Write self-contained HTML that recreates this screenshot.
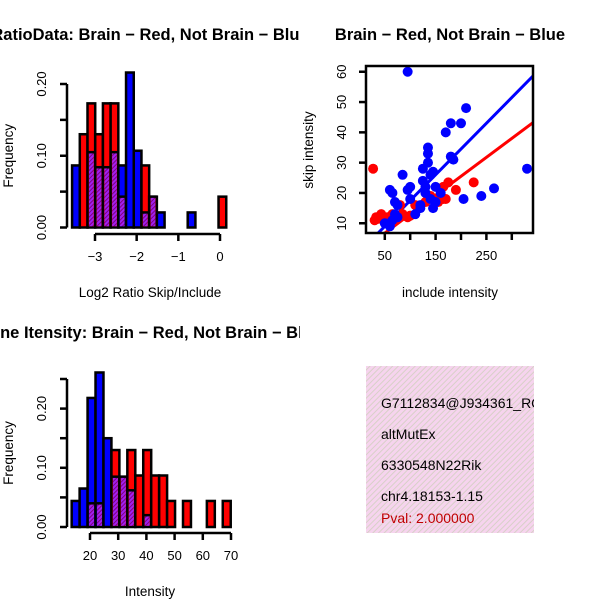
<!DOCTYPE html>
<html><head><meta charset="utf-8"><style>
html,body{margin:0;padding:0;background:#fff;}
svg{display:block;font-family:"Liberation Sans",Arial,sans-serif;}
</style></head><body>
<svg id="s" width="600" height="600" viewBox="0 0 600 600" xmlns="http://www.w3.org/2000/svg">
<defs>
<clipPath id="cTL"><rect x="0" y="0" width="300" height="300"/></clipPath>
<clipPath id="cBL"><rect x="0" y="300" width="300" height="300"/></clipPath>
<clipPath id="cTR"><rect x="300" y="0" width="300" height="300"/></clipPath>
<clipPath id="cScat"><rect x="366" y="66" width="167" height="167"/></clipPath>
<clipPath id="cBox"><rect x="366" y="366" width="168" height="167"/></clipPath>
<pattern id="pink" width="4" height="4" patternUnits="userSpaceOnUse" patternTransform="rotate(45)">
<rect width="4" height="4" fill="#f6d4ee"/><rect width="1" height="4" fill="#d8d0c8"/></pattern>
<pattern id="purp" width="3" height="3" patternUnits="userSpaceOnUse" patternTransform="rotate(45)">
<rect width="3" height="3" fill="#a020f0"/><rect width="1" height="3" fill="#800080"/></pattern>
</defs>
<g id="tl" clip-path="url(#cTL)"></g>
<g id="bl" clip-path="url(#cBL)"></g>
<g id="tr" clip-path="url(#cTR)"></g>
<g id="br">
<rect x="366" y="366" width="168" height="167" fill="url(#pink)"/>
<g clip-path="url(#cBox)" font-size="14">
<text x="381" y="408">G7112834@J934361_RC</text>
<text x="381" y="439">altMutEx</text>
<text x="381" y="470">6330548N22Rik</text>
<text x="381" y="501">chr4.18153-1.15</text>
<text x="381" y="523" fill="#c00000">Pval: 2.000000</text>
</g>
</g>
</svg>
<script>
// Top-left histogram data (frequency per bin)
const ratioRed  = [0,0.13,0.173,0.13,0.173,0.173,0.043,0,0,0.0865,0.043,0,0,0,0,0,0,0,0,0.043];
const ratioBlue = [0.0865,0,0.105,0.084,0.084,0.105,0.0865,0.216,0.107,0.021,0.043,0.021,0,0,0,0.021,0,0,0,0];
const ratioStart = -3.55, ratioBin = 0.185;
const ratioXTicks = [-3,-2,-1,0];
const ratioYTicks = [0,0.1,0.2];
// Bottom-left histogram data
const intRed  = [0,0,0.04,0.04,0,0.13,0.085,0.13,0.087,0.13,0.087,0.087,0.044,0,0.044,0,0,0.044,0,0.044];
const intBlue = [0.044,0.065,0.218,0.261,0.15,0.085,0.085,0.062,0,0.02,0,0,0,0,0,0,0,0,0,0];
const intStart = 13.5, intBin = 2.82;
const intXTicks = [20,30,40,50,60,70];
const intYTicks = [0,0.1,0.2];
// Scatter data
const redX = [27,30,33,38,43,45,50,55,60,65,70,75,80,85,95,100,110,130,140,150,155,165,170,175,190,225,165];
const redY = [28,11,12,11.5,13,12,11,12,10,13,11,12,16,13,12,12.5,16,17,19,18,17,18,18,23.5,21,23.5,22];
const blueX = [60,65,70,75,60,65,70,75,85,95,100,100,110,120,125,125,130,130,135,135,135,140,140,145,150,150,160,170,180,180,185,200,210,205,240,265,330,95,120,145,50];
const blueY = [9,11,13,12,21,20,17,16,26,21,22,18,13,16,24,28,20,22,30,35,33,18,26,27,22,17,20,40,43,32,31,43,48,18,19,21.5,28,60,15,15,10];
const fitBlue = [0.5,0.170]; // intercept, slope
const fitRed = [0.5,0.125];
const scatXTicks = [50,100,150,200,250,300];
const scatXLabels = ['50','','150','','250',''];
const scatYTicks = [10,20,30,40,50,60];

const NS='http://www.w3.org/2000/svg';
const TF=13.5, TT=16.5, TK=13;
function mk(parent,tag,attrs,text){const e=document.createElementNS(NS,tag);for(const k in attrs)e.setAttribute(k,attrs[k]);if(text!==undefined)e.textContent=text;parent.appendChild(e);return e;}

function hist(g,red,blue,start,bin,xticks,yticks,xmin,xmax,ymin,ymax,xAxY,ytopVal,title,titleY,xlab,xlabY,prefix){
  const X=v=>xmin[1]+(v-xmin[0])*(xmax[1]-xmin[1])/(xmax[0]-xmin[0]);
  const Y=v=>ymin[1]+(v-ymin[0])*(ymax[1]-ymin[1])/(ymax[0]-ymin[0]);
  const base=Y(0);
  for(let i=0;i<red.length;i++){
    const x0=X(start+i*bin),x1=X(start+(i+1)*bin);
    const r=red[i],b=blue[i];
    if(r===0&&b===0)continue;
    const hi=Math.max(r,b),lo=Math.min(r,b);
    const rect=mk(g,'rect',{x:x0,y:Y(hi),width:x1-x0,height:base-Y(hi),fill:r>=b?'#ff0000':'#0000ff',stroke:'#000','stroke-width':2.5});
    
    
    if(lo>0){
      const p=mk(g,'rect',{x:x0+1.5,y:Y(lo),width:x1-x0-3,height:base-Y(lo)-1.2,fill:'url(#purp)'});
      
      
      mk(g,'line',{x1:x0,x2:x1,y1:Y(lo),y2:Y(lo),stroke:'#000','stroke-width':2.5});
    }
  }
  const ya=mk(g,'line',{x1:67,x2:67,y1:Y(0),y2:Y(ytopVal),stroke:'#000','stroke-width':2.5});
  
  
  for(let v=0;v<=ytopVal+1e-9;v+=0.05){mk(g,'line',{x1:60,x2:67,y1:Y(v),y2:Y(v),stroke:'#000','stroke-width':2.5});}
  yticks.forEach(v=>{const t=mk(g,'text',{x:0,y:0,'font-size':TK,'text-anchor':'middle',transform:`translate(46,${Y(v)}) rotate(-90)`},v.toFixed(2));
    });
  const xa=mk(g,'line',{x1:X(xticks[0]),x2:X(xticks[xticks.length-1]),y1:xAxY,y2:xAxY,stroke:'#000','stroke-width':2.5});
  
  
  xticks.forEach(v=>{mk(g,'line',{x1:X(v),x2:X(v),y1:xAxY,y2:xAxY+7,stroke:'#000','stroke-width':2.5});
    const t=mk(g,'text',{x:X(v),y:xAxY+27,'font-size':TK,'text-anchor':'middle'},String(v).replace('-','\u2212'));
    });
  const tt=mk(g,'text',{x:150,y:titleY,'font-size':TT,'font-weight':'bold','text-anchor':'middle'},title);
  
  const xl=mk(g,'text',{x:150,y:xlabY,'font-size':TF,'text-anchor':'middle'},xlab);
  
  const yl=mk(g,'text',{x:0,y:0,'font-size':TF,'text-anchor':'middle',transform:`translate(13,${(Y(0)+Y(ytopVal))/2}) rotate(-90)`},'Frequency');
  
}
hist(document.getElementById('tl'),ratioRed,ratioBlue,ratioStart,ratioBin,ratioXTicks,ratioYTicks,
  [-3,95],[0,220],[0,227.5],[0.2,84],234,0.2,'RatioData: Brain \u2212 Red, Not Brain \u2212 Blue',40,'Log2 Ratio Skip/Include',297,'ratio');
hist(document.getElementById('bl'),intRed,intBlue,intStart,intBin,intXTicks,intYTicks,
  [20,90],[70,231],[0,527],[0.25,379],533,0.25,'Gene Itensity: Brain \u2212 Red, Not Brain \u2212 Blue',338,'Intensity',596,'intensity');

(function(){
  const g=document.getElementById('tr');
  const X=v=>366+(v-13)*0.508;
  const Y=v=>66+(61.9-v)*3.03;
  const pg=mk(g,'g',{'clip-path':'url(#cScat)'});
  function line(fit,color,name){const l=mk(pg,'line',{x1:X(0),y1:Y(fit[0]),x2:X(400),y2:Y(fit[0]+fit[1]*400),stroke:color,'stroke-width':3});
    }
  line(fitBlue,'#0000ff','blue-fit-line');
  line(fitRed,'#ff0000','red-fit-line');
  redX.forEach((x,i)=>{const c=mk(pg,'circle',{cx:X(x),cy:Y(redY[i]),r:5,fill:'#ff0000'});
    });
  blueX.forEach((x,i)=>{const c=mk(pg,'circle',{cx:X(x),cy:Y(blueY[i]),r:5,fill:'#0000ff'});
    });
  const box=mk(g,'rect',{x:366,y:66,width:167,height:167,fill:'none',stroke:'#000','stroke-width':2.5});
  
  scatXTicks.forEach((v,i)=>{mk(g,'line',{x1:X(v),x2:X(v),y1:233,y2:240,stroke:'#000','stroke-width':2.5});
    if(scatXLabels[i]){const t=mk(g,'text',{x:X(v),y:260,'font-size':TK,'text-anchor':'middle'},scatXLabels[i]);
      }});
  scatYTicks.forEach(v=>{mk(g,'line',{x1:359,x2:366,y1:Y(v),y2:Y(v),stroke:'#000','stroke-width':2.5});
    const t=mk(g,'text',{x:0,y:0,'font-size':TK,'text-anchor':'middle',transform:`translate(346,${Y(v)}) rotate(-90)`},String(v));
    });
  const tt=mk(g,'text',{x:450,y:40,'font-size':TT,'font-weight':'bold','text-anchor':'middle'},'Brain \u2212 Red, Not Brain \u2212 Blue');
  
  const xl=mk(g,'text',{x:450,y:297,'font-size':TF,'text-anchor':'middle'},'include intensity');
  
  const yl=mk(g,'text',{x:0,y:0,'font-size':TF,'text-anchor':'middle',transform:'translate(313,150) rotate(-90)'},'skip intensity');
  
})();
</script>
</body></html>
